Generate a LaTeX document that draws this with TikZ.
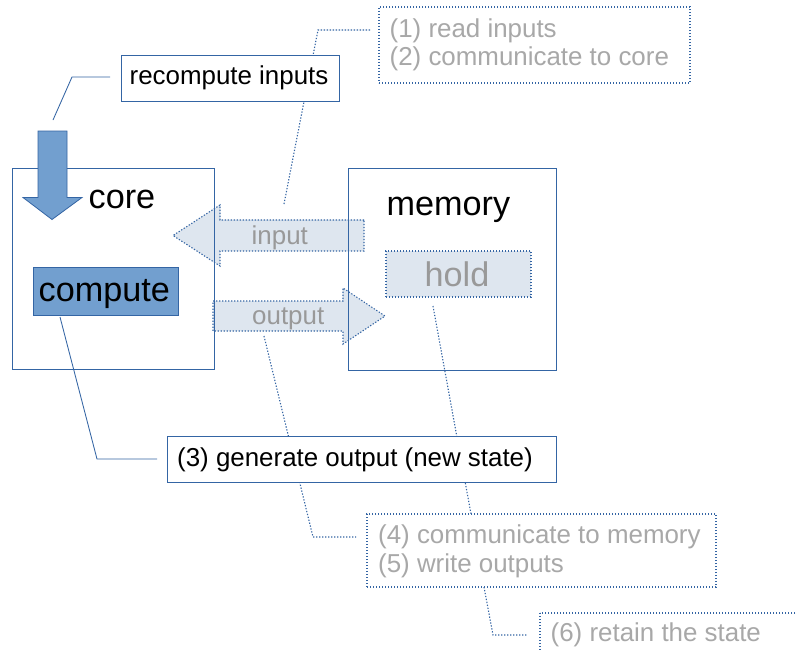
\documentclass[tikz,border=0pt]{standalone}
\usepackage{fontspec}
\setmainfont{Liberation Sans}
\definecolor{lineblue}{HTML}{3465A4}
\definecolor{fillblue}{HTML}{729FCF}
\definecolor{paleblue}{HTML}{DEE6EF}
\definecolor{softgray}{HTML}{999999}
\definecolor{lightgray}{HTML}{A8A8A8}
\tikzset{
  solidbox/.style={draw=lineblue, line width=0.95pt, fill=white, inner sep=0pt},
  framebox/.style={draw=lineblue, line width=0.95pt, inner sep=0pt},
  dotbox/.style={draw=lineblue, line width=1.2pt, dash pattern=on 1.3pt off 1.7pt, inner sep=0pt},
  dotline/.style={draw=lineblue, line width=1.1pt, dash pattern=on 1.3pt off 1.7pt},
  solidline/.style={draw=lineblue, line width=0.85pt},
  txt/.style={anchor=base west, inner sep=0pt, font=\fontsize{25.9}{28}\selectfont},
  bigtxt/.style={anchor=base west, inner sep=0pt, font=\fontsize{34.2}{36}\selectfont},
}
\begin{document}
\begin{tikzpicture}[x=1pt, y=-1pt]
\useasboundingbox (0,0) rectangle (796,651);
\clip (0,0) rectangle (796,651);
\fill[white] (0,0) rectangle (796,651);

% callout end points and bends
\coordinate (inTop) at (284,204);
\coordinate (inBend) at (318,30);
\coordinate (inEnd) at (370,30);
\coordinate (outTop) at (264,336);
\coordinate (outBend) at (313,537);
\coordinate (outEnd) at (356,537);
\coordinate (holdTop) at (433,306);
\coordinate (holdEnd) at (471,514);
\coordinate (arrTop) at (53,120);
\coordinate (arrBend) at (72,77);
\coordinate (arrEnd) at (110,77);
\coordinate (cmpTop) at (60,317);
\coordinate (cmpBend) at (97,459);
\coordinate (cmpEnd) at (157,459);
\coordinate (wrTop) at (484,587);
\coordinate (wrBend) at (493,635);
\coordinate (wrEnd) at (528,635);

% dotted callouts that pass behind the white boxes
\draw[dotline] (inTop) -- (inBend) -- (inEnd);
\draw[dotline] (outTop) -- (outBend) -- (outEnd);
\draw[dotline] (holdTop) -- (holdEnd);

% input and output block arrows
\filldraw[fill=paleblue, dotline] (364,220) -- (220,220) -- (220,205) -- (173,235.5)
  -- (220,266) -- (220,251) -- (364,251) -- cycle;
\filldraw[fill=paleblue, dotline] (213,301) -- (343,301) -- (343,288) -- (385,316)
  -- (343,344) -- (343,331) -- (213,331) -- cycle;

% core and memory frames
\node[framebox, minimum width=202pt, minimum height=201pt] (core) at (113,268.5) {};
\node[framebox, minimum width=208pt, minimum height=202pt] (memory) at (452,269) {};

% inner boxes
\node[draw=lineblue, line width=0.9pt, fill=fillblue, inner sep=0pt,
      minimum width=145pt, minimum height=48pt] (compute) at (105.5,291) {};
\node[dotbox, fill=paleblue, minimum width=145pt, minimum height=46pt] (hold) at (458.5,274) {};

% recompute arrow
\filldraw[fill=fillblue, draw=lineblue, line width=0.8pt]
  (38,131) -- (67,131) -- (67,197.5) -- (82,197.5) -- (52,219.5)
  -- (23,197.5) -- (38,197.5) -- cycle;

% solid callouts
\draw[solidline] (arrTop) -- (arrBend) -- (arrEnd);
\draw[solidline] (cmpTop) -- (cmpBend) -- (cmpEnd);
\draw[dotline] (wrTop) -- (wrBend) -- (wrEnd);

% labelled boxes
\node[solidbox, minimum width=218pt, minimum height=46pt] (recompute) at (230,78) {};
\node[solidbox, minimum width=389pt, minimum height=46pt] (generate) at (361.5,459.5) {};
\node[dotbox, fill=white, minimum width=311pt, minimum height=76pt] (readbox) at (534.5,45) {};
\node[dotbox, fill=white, minimum width=349pt, minimum height=73pt] (writebox) at (541.5,550.5) {};
\draw[dotline, fill=white] (540,613) rectangle (830,680);

% texts
\node[txt] (recomputeText) at (129.5,84) {recompute inputs};
\node[bigtxt] (coreText) at (88.5,208.3) {core};
\node[bigtxt] (memoryText) at (386.5,215) {memory};
\node[bigtxt] (computeText) at (38.5,301.7) {compute};
\node[bigtxt, text=softgray] (holdText) at (424.5,286) {hold};
\node[txt, text=softgray] (inputText) at (251.5,244.3) {input};
\node[txt, text=softgray] (outputText) at (252,324.3) {output};
\node[txt, text=lightgray] (readText) at (389.5,37) {(1) read inputs};
\node[txt, text=lightgray] (commText) at (389.5,65) {(2) communicate to core};
\node[txt] (generateText) at (177,466.7) {(3) generate output (new state)};
\node[txt, text=lightgray] (memText) at (378,543.3) {(4) communicate to memory};
\node[txt, text=lightgray] (writeText) at (378,572.7) {(5) write outputs};
\node[txt, text=lightgray] (retainText) at (550.5,641.7) {(6) retain the state};
\end{tikzpicture}
\end{document}
